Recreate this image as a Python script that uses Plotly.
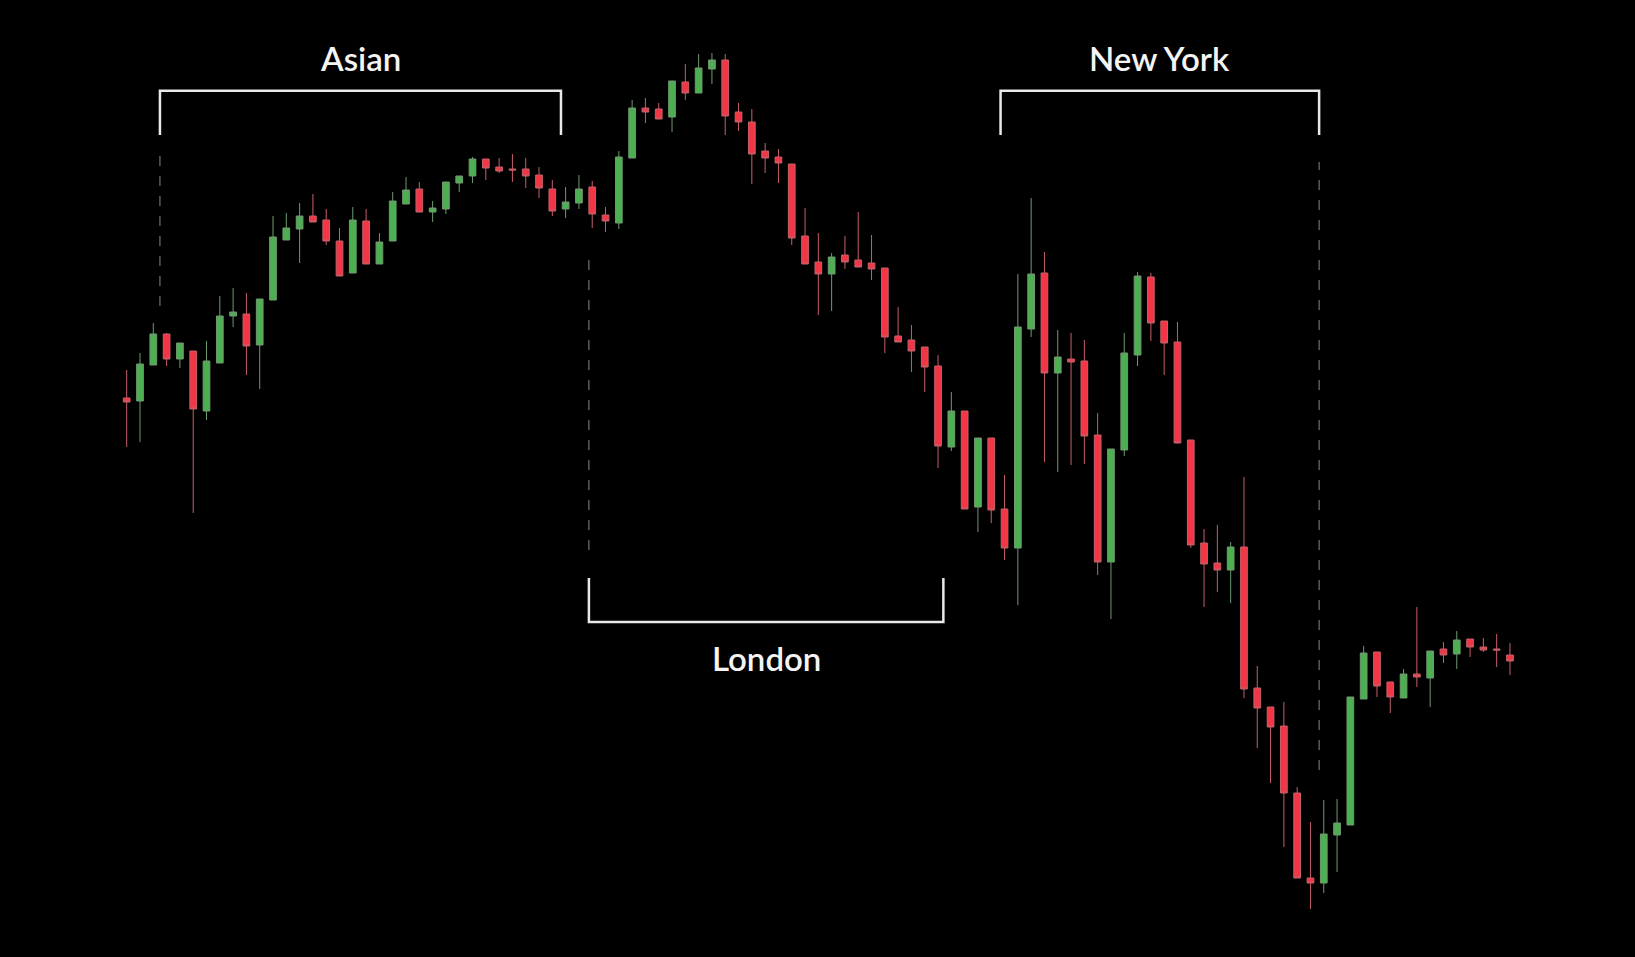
import plotly.graph_objects as go

# Price values (arbitrary price units)
open_ = [602, 599, 635, 666, 641, 649, 589, 637, 684, 686,
         655, 700, 760, 771, 784, 780, 759, 727, 779, 736,
         759, 796, 811, 788, 791, 817, 824, 841, 833, 831,
         831, 825, 811, 791, 797, 813, 785, 777, 842, 892,
         891, 883, 918, 907, 931, 940, 888, 878, 849, 843,
         836, 764, 738, 726, 745, 740, 737, 732, 664, 660,
         653, 634, 553, 589, 493, 562, 491, 452, 671, 727,
         627, 641, 639, 565, 438, 550, 645, 723, 679, 658,
         560, 457, 437, 430, 453, 312, 293, 274, 207, 122,
         117, 165, 175, 301, 348, 318, 302, 326, 322, 351,
         346, 361, 353, 351, 345]
high = [630, 647, 677, 667, 657, 649, 659, 704, 712, 707,
        701, 784, 787, 797, 806, 791, 772, 793, 791, 767,
        808, 823, 818, 799, 818, 824, 843, 841, 842, 846,
        842, 833, 820, 813, 825, 819, 793, 849, 900, 902,
        897, 919, 936, 946, 947, 946, 897, 891, 857, 851,
        836, 792, 767, 747, 764, 788, 765, 732, 693, 675,
        653, 645, 608, 589, 562, 562, 525, 726, 802, 748,
        670, 667, 660, 587, 551, 667, 728, 727, 679, 678,
        560, 471, 475, 458, 523, 334, 293, 298, 213, 178,
        200, 201, 303, 354, 348, 318, 331, 393, 349, 358,
        369, 361, 362, 366, 357]
low = [553, 558, 635, 634, 632, 487, 580, 637, 673, 625,
       611, 700, 760, 737, 778, 755, 724, 727, 736, 736,
       759, 796, 788, 778, 786, 808, 817, 820, 827, 818,
       812, 802, 784, 782, 791, 772, 768, 771, 842, 877,
       881, 868, 900, 907, 916, 865, 869, 816, 827, 817,
       755, 736, 685, 689, 731, 733, 720, 647, 658, 628,
       608, 532, 549, 491, 468, 477, 440, 395, 663, 538,
       528, 535, 536, 425, 381, 544, 634, 659, 625, 557,
       452, 393, 408, 397, 302, 252, 217, 153, 122, 91,
       107, 128, 175, 301, 303, 287, 302, 313, 293, 337,
       331, 343, 348, 333, 325]
close = [598, 636, 666, 641, 657, 591, 639, 684, 688, 654,
         701, 763, 772, 784, 778, 759, 724, 780, 736, 758,
         799, 810, 788, 792, 818, 824, 841, 832, 829, 830,
         824, 812, 789, 798, 811, 786, 779, 843, 892, 888,
         881, 919, 907, 932, 940, 884, 878, 846, 842, 837,
         762, 736, 726, 743, 738, 733, 731, 663, 658, 649,
         633, 554, 589, 491, 562, 490, 452, 673, 726, 627,
         643, 638, 564, 438, 551, 647, 724, 677, 657, 557,
         455, 436, 430, 453, 311, 292, 273, 207, 122, 117,
         166, 177, 303, 347, 314, 303, 326, 323, 349, 345,
         360, 353, 350, 350, 339]
bar_index = list(range(len(open_)))

# Session labels and their spans (bar-index units)
sessions = ["Asian", "London", "New York"]
session_start = [2.5, 34.75, 65.7]
session_end = [32.65, 61.4, 89.65]

GREEN = "#4CAF50"
RED = "#F23645"
GREEN_WICK = "#6f9a70"
RED_WICK = "#c4606a"

fig = go.Figure(go.Candlestick(
    x=bar_index, open=open_, high=high, low=low, close=close,
    increasing=dict(line=dict(color=GREEN_WICK, width=1), fillcolor=GREEN),
    decreasing=dict(line=dict(color=RED_WICK, width=1), fillcolor=RED),
    whiskerwidth=0, hoverinfo="skip", showlegend=False,
))

BR = dict(color="#e8e8e8", width=2.5)
DASH = dict(color="#8a8a8a", width=1, dash="10px,10px")
shapes = []
a0, a1 = session_start[0], session_end[0]
shapes.append(dict(type="path", path=f"M {a0},865 L {a0},909.3 L {a1},909.3 L {a1},865",
                   line=BR, xref="x", yref="y"))
l0, l1 = session_start[1], session_end[1]
shapes.append(dict(type="path", path=f"M {l0},422 L {l0},378 L {l1},378 L {l1},422",
                   line=BR, xref="x", yref="y"))
n0, n1 = session_start[2], session_end[2]
shapes.append(dict(type="path", path=f"M {n0},865 L {n0},909.3 L {n1},909.3 L {n1},865",
                   line=BR, xref="x", yref="y"))
shapes.append(dict(type="line", x0=a0, x1=a0, y0=694, y1=844, line=DASH, xref="x", yref="y"))
shapes.append(dict(type="line", x0=l0, x1=l0, y0=450, y1=740, line=DASH, xref="x", yref="y"))
shapes.append(dict(type="line", x0=n1, x1=n1, y0=230, y1=838, line=DASH, xref="x", yref="y"))

FONT = dict(family="Lato, Open Sans, sans-serif", size=33, color="#f4f4f4", weight=600)
annotations = [
    dict(x=(a0 + a1) / 2, y=942, text=sessions[0], showarrow=False, font=FONT,
         xref="x", yref="y", xanchor="center", yanchor="middle"),
    dict(x=(l0 + l1) / 2, y=342, text=sessions[1], showarrow=False, font=FONT,
         xref="x", yref="y", xanchor="center", yanchor="middle"),
    dict(x=(n0 + n1) / 2, y=942, text=sessions[2], showarrow=False, font=FONT,
         xref="x", yref="y", xanchor="center", yanchor="middle"),
]

fig.update_layout(
    width=1635, height=957,
    margin=dict(l=0, r=0, t=0, b=0),
    paper_bgcolor="black", plot_bgcolor="black",
    showlegend=False,
    shapes=shapes, annotations=annotations,
    xaxis=dict(range=[-9.526, 113.4], visible=False, showgrid=False, zeroline=False,
               rangeslider=dict(visible=False), fixedrange=True),
    yaxis=dict(range=[43, 1000], visible=False, showgrid=False, zeroline=False, fixedrange=True),
    boxgap=0.28,
)

fig.write_html(
    "out.html",
    config={"displayModeBar": False},
    post_script="document.body.style.margin='0';document.body.style.background='black';"
                "document.documentElement.style.background='black';document.body.style.overflow='hidden';",
)
